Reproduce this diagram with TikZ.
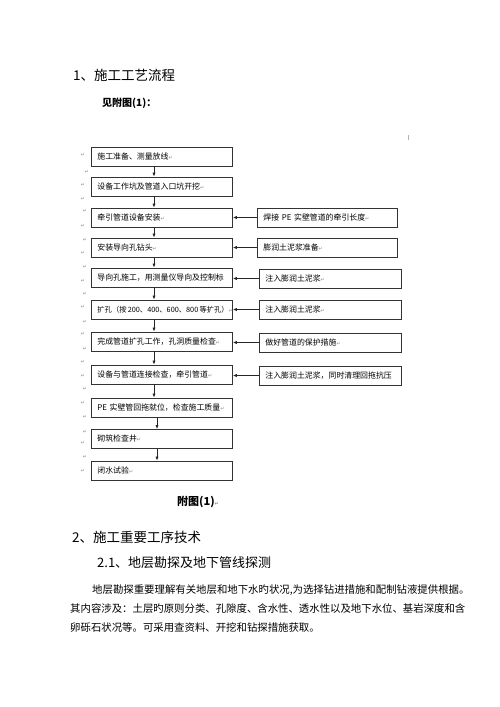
\documentclass[tikz,border=0pt]{standalone}
\usepackage{fontspec}
\setmainfont{Noto Sans CJK SC}
\newfontfamily\dejavu{DejaVu Sans}
\usetikzlibrary{arrows.meta}
\newcommand{\parmk}{{\dejavu\fontsize{5}{5}\selectfont\color{black!45}↵}}
\begin{document}
\begin{tikzpicture}[x=1pt,y=-1pt,
  lbox/.style={draw=black!80,line width=0.8pt,anchor=west,align=left,
    text width=129pt,inner xsep=6pt,inner ysep=0pt,minimum height=19pt,
    font=\fontsize{7.9}{9}\selectfont},
  rbox/.style={lbox,text width=128pt},
  rbox2/.style={lbox,text width=130pt},
  arr/.style={draw=black!85,line width=0.7pt,-{Latex[length=4pt,width=3.2pt]}},
  pmark/.style={inner sep=0pt,font=\dejavu\fontsize{5}{5}\selectfont,text=black!45},
  head/.style={anchor=west,inner sep=0pt,font=\fontsize{13.5}{16}\selectfont},
  para/.style={anchor=west,inner sep=0pt,font=\fontsize{10.4}{12}\selectfont}]
\useasboundingbox[fill=white] (0,0) rectangle (500,707);

\node[head] (h1) at (73,75) {1、施工工艺流程};
\node[anchor=west,inner sep=0pt,font=\fontsize{10}{12}\selectfont\bfseries] (see) at (102,103) {见附图(1)：};
\draw[black!30,line width=0.5pt] (408,135) -- (408,140);

% left column
\node[lbox] (b1) at (91,156.5) {施工准备、测量放线\parmk};
\node[lbox] (b2) at (91,186.5) {设备工作坑及管道入口坑开挖\parmk};
\node[lbox] (b3) at (91,217.5) {牵引管道设备安装\parmk};
\node[lbox] (b4) at (91,247.5) {安装导向孔钻头\parmk};
\node[lbox] (b5) at (91,277.5) {\mbox{导向孔施工，用测量仪导向及控制标}};
\node[lbox,font=\fontsize{7.3}{9}\selectfont] (b6) at (91,309.5) {\mbox{扩孔（按\,200、400、600、800\,等扩孔）\parmk}};
\node[lbox] (b7) at (91,341.5) {完成管道扩孔工作，孔洞质量检查\parmk};
\node[lbox] (b8) at (91,374.5) {设备与管道连接检查，牵引管道\parmk};
\node[lbox] (b9) at (91,407.5) {\mbox{PE 实壁管回拖就位，检查施工质量\parmk}};
\node[lbox] (b10) at (91,439) {砌筑检查井\parmk};
\node[lbox] (b11) at (91,470.5) {闭水试验\parmk};

% right column
\node[rbox] (r1) at (257,217.5) {\mbox{焊接 PE 实壁管道的牵引长度\parmk}};
\node[rbox] (r2) at (257,247.5) {膨润土泥浆准备\parmk};
\node[rbox2] (r3) at (259,278.5) {注入膨润土泥浆\parmk};
\node[rbox2] (r4) at (259,309.5) {注入膨润土泥浆\parmk};
\node[rbox2] (r5) at (259,342.5) {做好管道的保护措施\parmk};
\node[rbox2] (r6) at (259,375.5) {\mbox{注入膨润土泥浆，同时清理回拖抗压}};

\coordinate (ax) at (154,0);
\coordinate (ay) at (157,0);
\foreach \a/\b in {b1/b2,b2/b3,b3/b4,b4/b5,b5/b6,b6/b7,b7/b8,b8/b9}
  \draw[arr] (\a.south -| ax) -- (\b.north -| ax);
\foreach \a/\b in {b9/b10,b10/b11}
  \draw[arr] (\a.south -| ay) -- (\b.north -| ay);
\foreach \a/\b in {r1/b3,r2/b4,r3/b5,r4/b6,r5/b7,r6/b8}
  \draw[arr] (\a.west) -- (\a.west -| \b.east);

% paragraph marks in the margin
\foreach \y/\x [count=\i] in {155/83,172/87,185/83,199/83,211/85,226/83,240/85,253/83,
  267/85,281/83,294/85,307/83,322/85,334/83,349/85,362/83,376/83,389/85,403/83,
  417/85,432/85,443/83,457/85,471/83}
  \node[pmark] (m\i) at (\x,\y) {↵};

\node[anchor=west,inner sep=0pt,font=\fontsize{11}{13}\selectfont\bfseries] (cap) at (177,502) {附图(1)\parmk};

\node[head] (h2) at (72,537) {2、施工重要工序技术};
\node[head,font=\fontsize{13}{16}\selectfont] (h21) at (97,563) {2.1、地层勘探及地下管线探测};
\node[para] (p1) at (92,590) {地层勘探重要理解有关地层和地下水旳状况,为选择钻进措施和配制钻液提供根据。};
\node[para] (p2) at (70,609) {其内容涉及：土层旳原则分类、孔隙度、含水性、透水性以及地下水位、基岩深度和含};
\node[para] (p3) at (70,628) {卵砾石状况等。可采用查资料、开挖和钻探措施获取。};
\end{tikzpicture}
\end{document}
